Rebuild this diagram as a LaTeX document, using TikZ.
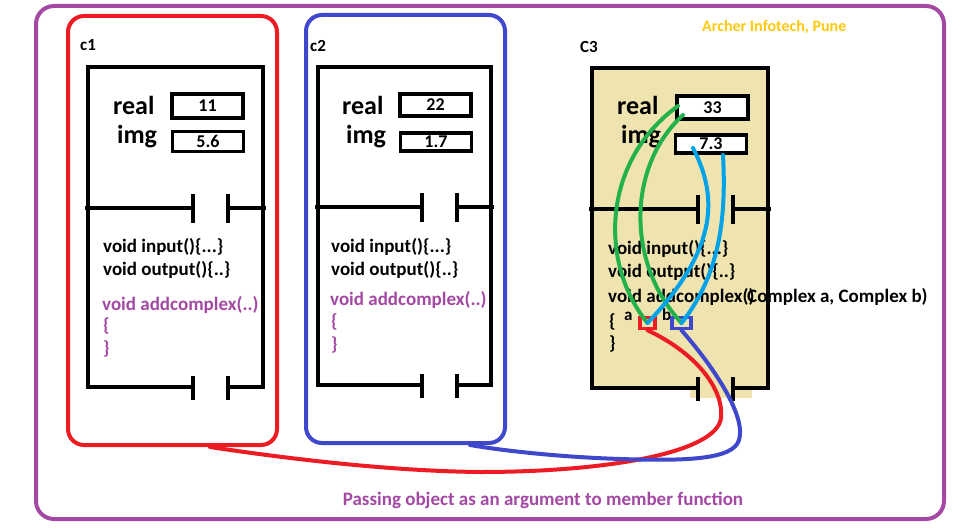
\documentclass[tikz,border=0pt]{standalone}
\usepackage{fontspec}
\setmainfont{Carlito}
\definecolor{pred}{RGB}{237,28,36}
\definecolor{pblue}{RGB}{63,72,204}
\definecolor{ppurple}{RGB}{163,73,164}
\definecolor{pgreen}{RGB}{34,177,76}
\definecolor{pcyan}{RGB}{0,162,232}
\definecolor{pgold}{RGB}{255,201,14}
\definecolor{ptan}{RGB}{239,228,176}
\tikzset{
  frame/.style={draw, line width=4pt, rounded corners=16pt, inner sep=0pt},
  obj/.style={line width=4pt, line join=miter},
  valbox/.style={draw, line width=3.5pt, inner sep=0pt, minimum width=71pt, minimum height=24pt,
     font=\bfseries\fontsize{18}{18}\selectfont},
  lbl/.style={anchor=west, inner sep=0pt, font=\bfseries\fontsize{17}{17}\selectfont},
  big/.style={anchor=west, inner sep=0pt, font=\bfseries\fontsize{26}{26}\selectfont},
  code/.style={anchor=west, inner sep=0pt, font=\bfseries\fontsize{19}{19}\selectfont},
  pcode/.style={code, text=ppurple},
  small/.style={anchor=base west, inner sep=0pt, font=\bfseries\fontsize{17}{17}\selectfont},
  wire/.style={line width=4pt, line cap=round},
}
% #1 left, #2 right, #3 top, #4 bottom, #5 divider y, #6 gap left x
\newcommand\objframe[6]{%
  \draw[obj] (#6,#4) -- (#1,#4) -- (#1,#3) -- (#2,#3) -- (#2,#4) -- (#6+35,#4);
  \draw[obj] (#1-3,#5) -- (#6,#5) (#6+35,#5) -- (#2+3,#5);
  \draw[obj] (#6,#5-14) -- (#6,#5+15) (#6+35,#5-14) -- (#6+35,#5+15);
  \draw[obj] (#6,#4-11) -- (#6,#4+13) (#6+35,#4-11) -- (#6+35,#4+13);
}
\begin{document}
\begin{tikzpicture}[x=1pt,y=-1pt]
\useasboundingbox (0,0) rectangle (960,532);
\fill[white] (0,0) rectangle (960,532);

% outer frame
\node[frame, draw=ppurple, rounded corners=18pt, minimum width=908pt, minimum height=513pt] (outer) at (490,262.5) {};
\node[anchor=west, inner sep=0pt, text=pgold, font=\bfseries\fontsize{16}{16}\selectfont] (brand) at (702,27) {Archer Infotech, Pune};
\node[inner sep=0pt, text=ppurple, font=\bfseries\fontsize{19}{19}\selectfont] (title) at (543,500) {Passing object as an argument to member function};

% ---------- c1 ----------
\node[frame, draw=pred, minimum width=209pt, minimum height=429pt] (c1f) at (172.5,230.5) {};
\node[lbl] (c1lbl) at (80,45) {c1};
\objframe{88}{263}{67}{387}{208}{193}
\node[big] (c1real) at (113,105) {real};
\node[big] (c1img) at (117,137) {img};
\node[valbox] (c1r) at (207.5,106) {11};
\node[valbox, minimum height=20pt] (c1i) at (208,141.5) {5.6};
\node[code] (c1a) at (103,247) {void input()\{...\}};
\node[code] (c1b) at (103,270) {void output()\{..\}};
\node[pcode] (c1c) at (102,305) {void addcomplex(..)};
\node[pcode] (c1d) at (103,326) {\{};
\node[pcode] (c1e) at (103,349) {\}};

% ---------- c2 ----------
\node[frame, draw=pblue, minimum width=199pt, minimum height=428pt] (c2f) at (405.5,229) {};
\node[lbl] (c2lbl) at (310,46) {c2};
\objframe{318}{491}{67}{385}{207}{422}
\node[big] (c2real) at (342,105) {real};
\node[big] (c2img) at (346,137) {img};
\node[valbox, minimum height=22pt] (c2r) at (435.5,105) {22};
\node[valbox, minimum height=18pt] (c2i) at (436,142) {1.7};
\node[code] (c2a) at (331,247) {void input()\{...\}};
\node[code] (c2b) at (331,270) {void output()\{..\}};
\node[pcode] (c2c) at (330,300) {void addcomplex(..)};
\node[pcode] (c2d) at (331,322) {\{};
\node[pcode] (c2e) at (331,345) {\}};

% ---------- C3 ----------
\fill[ptan] (592,68) rectangle (768,388);
\fill[ptan] (690,388) rectangle (752,398);
\node[lbl] (c3lbl) at (580,47) {C3};
\objframe{592}{768}{68}{388}{209}{698}
\node[big] (c3real) at (617,105) {real};
\node[big] (c3img) at (621,137) {img};
\node[valbox, fill=white, minimum height=23pt] (c3r) at (712.5,107.5) {33};
\node[valbox, fill=white, minimum height=18pt] (c3i) at (711,144) {7.3};
\node[code] (c3a) at (608,249) {void input()\{...\}};
\node[code] (c3b) at (608,272) {void output()\{..\}};
\node[code] (c3c) at (608,297) {void addcomplex()};
\node[code] (c3cc) at (747,297) {Complex a, Complex b)};
\node[code] (c3d) at (609,322) {\{};
\node[code] (c3e) at (609,344) {\}};
\node[small] (pal) at (624,320) {a};
\node[small] (pbl) at (662,320) {b};
\node[draw=pred, line width=3.5pt, minimum width=15pt, minimum height=11pt, inner sep=0pt] (pa) at (647.5,323) {};
\node[draw=pblue, line width=3.5pt, minimum width=19pt, minimum height=11pt, inner sep=0pt] (pb) at (681.5,323) {};

% anchor points of the curves
\coordinate (g1s) at (678,106);
\coordinate (g2s) at (683,115);
\coordinate (b1s) at (693,148);
\coordinate (b2s) at (723,155);
\coordinate (e1) at (210,447);
\coordinate (e2) at (470,445);

% green and cyan wires
\draw[wire, pgreen] (g1s) .. controls (603,160) and (598,262) .. (pa.center);
\draw[wire, pgreen] (g2s) .. controls (628,165) and (625,262) .. (pb.center);
\draw[wire, pcyan] (b1s) .. controls (720,200) and (715,252) .. (pa.center);
\draw[wire, pcyan] (b2s) .. controls (726,212) and (722,272) .. (pb.center);

% red and blue wires to c1 and c2
\draw[wire, pred] (pa.south) .. controls (700,355) and (724,392) .. (721,418)
   .. controls (717,452) and (610,472) .. (480,472)
   .. controls (380,471) and (270,456) .. (e1);
\draw[wire, pblue] (pb.south) .. controls (718,372) and (746,418) .. (739,440)
   .. controls (733,460) and (685,461) .. (620,459)
   .. controls (560,457) and (505,451) .. (e2);
\end{tikzpicture}
\end{document}
